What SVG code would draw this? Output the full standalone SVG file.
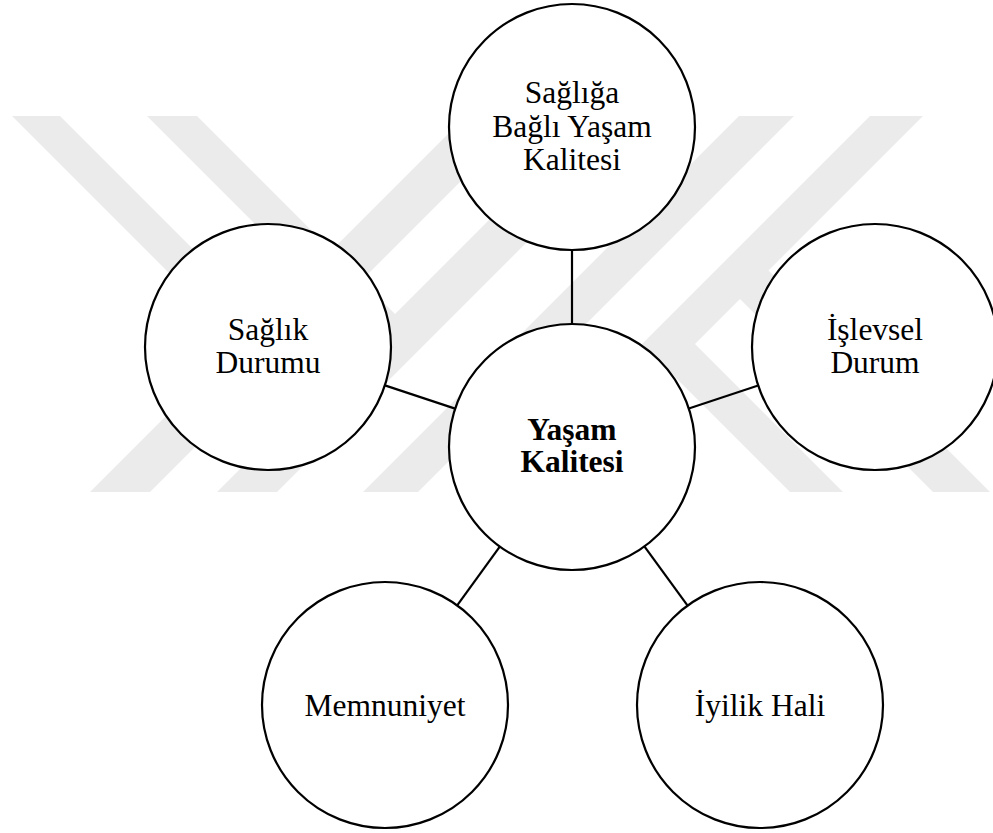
<svg xmlns="http://www.w3.org/2000/svg" width="993" height="833" viewBox="0 0 993 833">
<style>
.wm{fill:#ebebeb}
.node circle{fill:#fff;stroke:#000;stroke-width:2.2}
.lbl{font-family:"Liberation Serif","Times New Roman",serif;font-size:31.5px;fill:#000;text-anchor:middle}
.b{font-weight:bold}
#connectors line{stroke:#000;stroke-width:2.2}
</style>
<rect x="0" y="0" width="993" height="833" fill="#fff"/>
<g id="watermark">
  <polygon class="wm" points="12,116 60,116 278,334 254,358"/>
  <polygon class="wm" points="147,116 197,116 410,329 385,354"/>
  <polygon class="wm" points="90,492 150,492 526,116 466,116"/>
  <polygon class="wm" points="217,492 277,492 653,116 593,116"/>
  <polygon class="wm" points="363,492 418,492 794,116 739,116"/>
  <polygon class="wm" points="870,116 923,116 695,344 843,492 790,492 642,344"/>
  <polygon class="wm" points="726.75,285.75 755.25,257.25 990,492 933,492"/>
</g>
<g id="connectors">
  <line x1="572" y1="250" x2="572" y2="324"/>
  <line x1="384.9" y1="385.4" x2="455.1" y2="408.6"/>
  <line x1="688.8" y1="408.5" x2="758.2" y2="385.5"/>
  <line x1="499.8" y1="546.6" x2="457.2" y2="605.4"/>
  <line x1="644.4" y1="546.4" x2="687.6" y2="605.6"/>
</g>
<g id="node-top" class="node">
  <circle cx="572" cy="127" r="123"/>
  <text class="lbl" x="572" y="103">Sağlığa</text>
  <text class="lbl" x="572" y="137">Bağlı Yaşam</text>
  <text class="lbl" x="572" y="170">Kalitesi</text>
</g>
<g id="node-left" class="node">
  <circle cx="268" cy="347" r="123"/>
  <text class="lbl" x="268" y="340">Sağlık</text>
  <text class="lbl" x="268" y="373">Durumu</text>
</g>
<g id="node-right" class="node">
  <circle cx="875" cy="347" r="123"/>
  <text class="lbl" x="875" y="340">İşlevsel</text>
  <text class="lbl" x="875" y="373">Durum</text>
</g>
<g id="node-center" class="node">
  <circle cx="572" cy="447" r="123"/>
  <text class="lbl b" x="572" y="440">Yaşam</text>
  <text class="lbl b" x="572" y="472">Kalitesi</text>
</g>
<g id="node-bottom-left" class="node">
  <circle cx="385" cy="705" r="123"/>
  <text class="lbl" x="385" y="716">Memnuniyet</text>
</g>
<g id="node-bottom-right" class="node">
  <circle cx="760" cy="705" r="123"/>
  <text class="lbl" x="760" y="716">İyilik Hali</text>
</g>
</svg>
